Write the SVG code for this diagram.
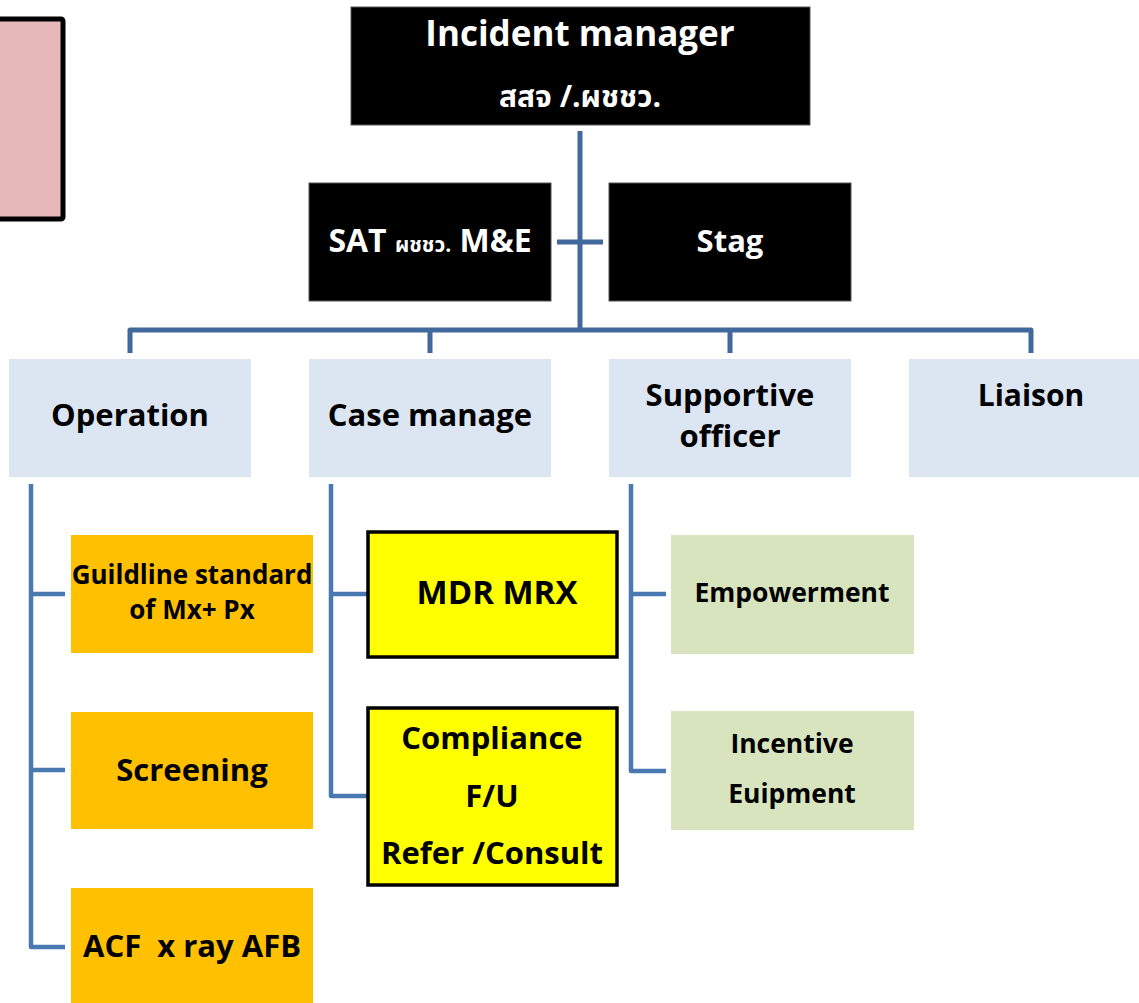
<svg xmlns="http://www.w3.org/2000/svg" width="1139" height="1003" viewBox="0 0 1139 1003">
<style>
text{font-family:"Open Sans","Noto Sans","Noto Sans Thai","DejaVu Sans",sans-serif;font-weight:bold;text-anchor:middle}
.w{fill:#ffffff}
.k{fill:#000000}
.blk{fill:#000000;stroke:#555555;stroke-width:1}
.l2{fill:#DCE6F2}
.or{fill:#FFC000}
.ye{fill:#FFFF00;stroke:#000000;stroke-width:3.5}
.gr{fill:#D7E4BD}
.c1{fill:none;stroke:#41699C;stroke-width:5;stroke-linejoin:round}
.c2{fill:none;stroke:#4A78B0;stroke-width:4.5;stroke-linejoin:round}
</style>
<rect width="1139" height="1003" fill="#ffffff"/>
<g id="note"><rect x="-10" y="19" width="73" height="200" rx="2" fill="#E6B8B7" stroke="#000000" stroke-width="5"/></g>
<g id="connectors">
<path class="c1" d="M580 131V330M557 242H603M130 353V330H1031V353M430 330V353M730 330V353"/>
<path class="c2" d="M31 484V947H65M31 594H65M31 770H65"/>
<path class="c2" d="M331 484V796H367M331 594H367"/>
<path class="c2" d="M631 484V771H666M631 594H666"/>
</g>
<g id="incident-manager"><rect class="blk" x="351" y="7" width="459" height="118"/>
<text class="w" x="580" y="46" font-size="35">Incident manager</text>
<text class="w" x="580" y="107" font-size="30">สสจ /.ผชชว.</text></g>
<g id="sat"><rect class="blk" x="309" y="183" width="242" height="118"/>
<text class="w" x="430" y="252" font-size="32">SAT <tspan font-size="21">ผชชว.</tspan> M&amp;E</text></g>
<g id="stag"><rect class="blk" x="609" y="183" width="242" height="118"/>
<text class="w" x="730" y="252" font-size="31">Stag</text></g>
<g id="operation"><rect class="l2" x="9" y="359" width="242" height="118"/>
<text class="k" x="130" y="426" font-size="31">Operation</text></g>
<g id="case-manage"><rect class="l2" x="309" y="359" width="242" height="118"/>
<text class="k" x="430" y="426" font-size="31">Case manage</text></g>
<g id="supportive"><rect class="l2" x="609" y="359" width="242" height="118"/>
<text class="k" x="730" y="406" font-size="31">Supportive</text>
<text class="k" x="730" y="447" font-size="31">officer</text></g>
<g id="liaison"><rect class="l2" x="909" y="359" width="232" height="118"/>
<text class="k" x="1031" y="406" font-size="30">Liaison</text></g>
<g id="guideline"><rect class="or" x="71" y="535" width="242" height="118"/>
<text class="k" x="192" y="584" font-size="26">Guildline standard</text>
<text class="k" x="192" y="619" font-size="26">of Mx+ Px</text></g>
<g id="screening"><rect class="or" x="71" y="712" width="242" height="117"/>
<text class="k" x="192" y="781" font-size="31">Screening</text></g>
<g id="acf"><rect class="or" x="71" y="888" width="242" height="118"/>
<text class="k" x="192" y="957" font-size="31" xml:space="preserve">ACF  x ray AFB</text></g>
<g id="mdr"><rect class="ye" x="368" y="532" width="249" height="125"/>
<text class="k" x="497" y="604" font-size="33">MDR MRX</text></g>
<g id="compliance"><rect class="ye" x="368" y="708" width="249" height="177"/>
<text class="k" x="492" y="749" font-size="31">Compliance</text>
<text class="k" x="492" y="807" font-size="31">F/U</text>
<text class="k" x="492" y="864" font-size="31">Refer /Consult</text></g>
<g id="empowerment"><rect class="gr" x="671" y="535" width="243" height="119"/>
<text class="k" x="792" y="602" font-size="26.5">Empowerment</text></g>
<g id="incentive"><rect class="gr" x="671" y="711" width="243" height="119"/>
<text class="k" x="792" y="753" font-size="26.5">Incentive</text>
<text class="k" x="792" y="803" font-size="26.5">Euipment</text></g>
</svg>
